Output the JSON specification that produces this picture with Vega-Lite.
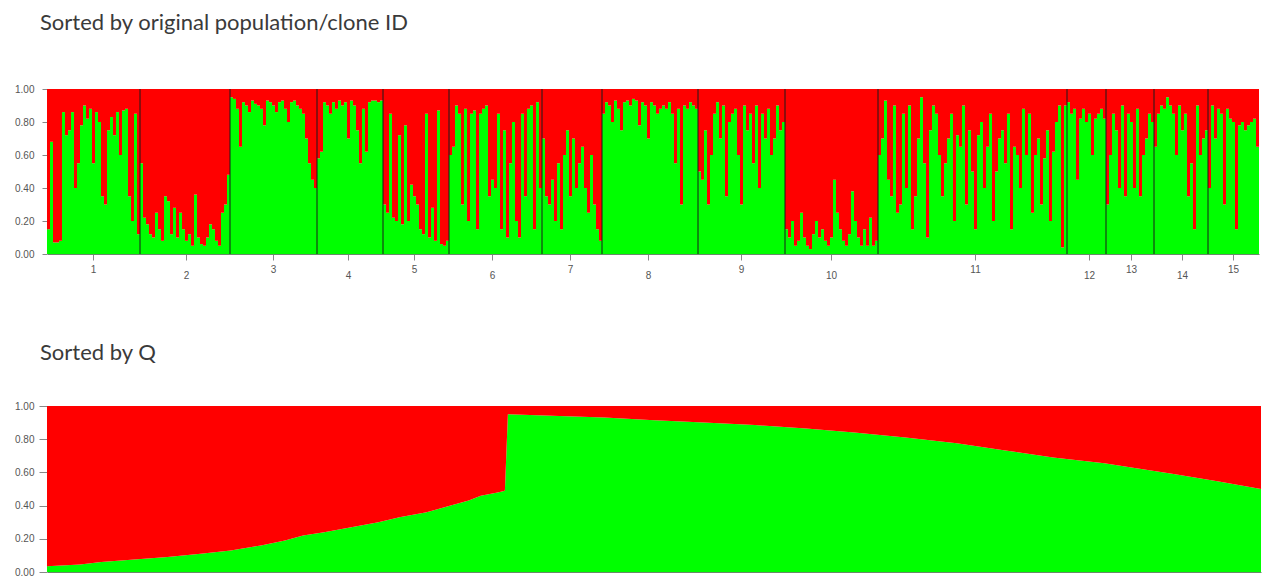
{
  "$schema": "https://vega.github.io/schema/vega-lite/v6.json",
  "background": "white",
  "padding": {"left": 14, "top": 12, "right": 5, "bottom": 2},
  "config": {
    "view": {"stroke": null},
    "font": "Liberation Sans",
    "title": {"font": "Lato", "fontSize": 22, "fontWeight": "normal", "color": "#3a3a3a", "anchor": "start", "frame": "group"},
    "axisY": {"title": null, "values": [0,0.2,0.4,0.6,0.8,1], "format": ".2f", "grid": false, "labelFontSize": 10, "labelColor": "#555555", "tickColor": "#888888", "domainColor": "#aaaaaa"}
  },
  "spacing": 62,
  "datasets": {
    "ind": [
      {"i":1,"p":1,"q":0.15},{"i":2,"p":1,"q":0.68},{"i":3,"p":1,"q":0.07},{"i":4,"p":1,"q":0.07},{"i":5,"p":1,"q":0.08},{"i":6,"p":1,"q":0.86},{"i":7,"p":1,"q":0.72},{"i":8,"p":1,"q":0.75},{"i":9,"p":1,"q":0.86},{"i":10,"p":1,"q":0.40},
      {"i":11,"p":1,"q":0.55},{"i":12,"p":1,"q":0.78},{"i":13,"p":1,"q":0.90},{"i":14,"p":1,"q":0.82},{"i":15,"p":1,"q":0.88},{"i":16,"p":1,"q":0.55},{"i":17,"p":1,"q":0.86},{"i":18,"p":1,"q":0.80},{"i":19,"p":1,"q":0.35},{"i":20,"p":1,"q":0.30},
      {"i":21,"p":1,"q":0.75},{"i":22,"p":1,"q":0.83},{"i":23,"p":1,"q":0.72},{"i":24,"p":1,"q":0.86},{"i":25,"p":1,"q":0.60},{"i":26,"p":1,"q":0.87},{"i":27,"p":1,"q":0.88},{"i":28,"p":1,"q":0.35},{"i":29,"p":1,"q":0.20},{"i":30,"p":1,"q":0.85},
      {"i":31,"p":1,"q":0.12},
      {"i":32,"p":2,"q":0.55},{"i":33,"p":2,"q":0.22},{"i":34,"p":2,"q":0.18},{"i":35,"p":2,"q":0.12},{"i":36,"p":2,"q":0.10},{"i":37,"p":2,"q":0.25},{"i":38,"p":2,"q":0.15},{"i":39,"p":2,"q":0.08},{"i":40,"p":2,"q":0.35},
      {"i":41,"p":2,"q":0.32},{"i":42,"p":2,"q":0.12},{"i":43,"p":2,"q":0.28},{"i":44,"p":2,"q":0.10},{"i":45,"p":2,"q":0.25},{"i":46,"p":2,"q":0.15},{"i":47,"p":2,"q":0.08},{"i":48,"p":2,"q":0.12},{"i":49,"p":2,"q":0.05},{"i":50,"p":2,"q":0.36},
      {"i":51,"p":2,"q":0.10},{"i":52,"p":2,"q":0.06},{"i":53,"p":2,"q":0.05},{"i":54,"p":2,"q":0.10},{"i":55,"p":2,"q":0.18},{"i":56,"p":2,"q":0.15},{"i":57,"p":2,"q":0.08},{"i":58,"p":2,"q":0.05},{"i":59,"p":2,"q":0.25},{"i":60,"p":2,"q":0.30},
      {"i":61,"p":2,"q":0.48},
      {"i":62,"p":3,"q":0.95},{"i":63,"p":3,"q":0.94},{"i":64,"p":3,"q":0.88},{"i":65,"p":3,"q":0.65},{"i":66,"p":3,"q":0.92},{"i":67,"p":3,"q":0.90},{"i":68,"p":3,"q":0.86},{"i":69,"p":3,"q":0.93},{"i":70,"p":3,"q":0.91},
      {"i":71,"p":3,"q":0.90},{"i":72,"p":3,"q":0.88},{"i":73,"p":3,"q":0.78},{"i":74,"p":3,"q":0.93},{"i":75,"p":3,"q":0.92},{"i":76,"p":3,"q":0.90},{"i":77,"p":3,"q":0.86},{"i":78,"p":3,"q":0.92},{"i":79,"p":3,"q":0.93},{"i":80,"p":3,"q":0.88},
      {"i":81,"p":3,"q":0.80},{"i":82,"p":3,"q":0.92},{"i":83,"p":3,"q":0.93},{"i":84,"p":3,"q":0.90},{"i":85,"p":3,"q":0.88},{"i":86,"p":3,"q":0.85},{"i":87,"p":3,"q":0.70},{"i":88,"p":3,"q":0.55},{"i":89,"p":3,"q":0.45},{"i":90,"p":3,"q":0.40},
      {"i":91,"p":4,"q":0.58},{"i":92,"p":4,"q":0.62},{"i":93,"p":4,"q":0.92},{"i":94,"p":4,"q":0.90},{"i":95,"p":4,"q":0.85},{"i":96,"p":4,"q":0.92},{"i":97,"p":4,"q":0.88},{"i":98,"p":4,"q":0.93},{"i":99,"p":4,"q":0.90},{"i":100,"p":4,"q":0.92},
      {"i":101,"p":4,"q":0.70},{"i":102,"p":4,"q":0.93},{"i":103,"p":4,"q":0.90},{"i":104,"p":4,"q":0.75},{"i":105,"p":4,"q":0.55},{"i":106,"p":4,"q":0.88},{"i":107,"p":4,"q":0.62},{"i":108,"p":4,"q":0.92},{"i":109,"p":4,"q":0.93},{"i":110,"p":4,"q":0.93},
      {"i":111,"p":4,"q":0.92},{"i":112,"p":4,"q":0.93},
      {"i":113,"p":5,"q":0.30},{"i":114,"p":5,"q":0.25},{"i":115,"p":5,"q":0.85},{"i":116,"p":5,"q":0.22},{"i":117,"p":5,"q":0.20},{"i":118,"p":5,"q":0.72},{"i":119,"p":5,"q":0.18},{"i":120,"p":5,"q":0.78},
      {"i":121,"p":5,"q":0.20},{"i":122,"p":5,"q":0.42},{"i":123,"p":5,"q":0.35},{"i":124,"p":5,"q":0.30},{"i":125,"p":5,"q":0.15},{"i":126,"p":5,"q":0.12},{"i":127,"p":5,"q":0.85},{"i":128,"p":5,"q":0.10},{"i":129,"p":5,"q":0.28},{"i":130,"p":5,"q":0.08},
      {"i":131,"p":5,"q":0.87},{"i":132,"p":5,"q":0.06},{"i":133,"p":5,"q":0.05},{"i":134,"p":5,"q":0.08},
      {"i":135,"p":6,"q":0.60},{"i":136,"p":6,"q":0.65},{"i":137,"p":6,"q":0.90},{"i":138,"p":6,"q":0.85},{"i":139,"p":6,"q":0.30},{"i":140,"p":6,"q":0.88},
      {"i":141,"p":6,"q":0.20},{"i":142,"p":6,"q":0.85},{"i":143,"p":6,"q":0.87},{"i":144,"p":6,"q":0.15},{"i":145,"p":6,"q":0.85},{"i":146,"p":6,"q":0.88},{"i":147,"p":6,"q":0.90},{"i":148,"p":6,"q":0.35},{"i":149,"p":6,"q":0.45},{"i":150,"p":6,"q":0.40},
      {"i":151,"p":6,"q":0.85},{"i":152,"p":6,"q":0.15},{"i":153,"p":6,"q":0.75},{"i":154,"p":6,"q":0.10},{"i":155,"p":6,"q":0.55},{"i":156,"p":6,"q":0.80},{"i":157,"p":6,"q":0.20},{"i":158,"p":6,"q":0.10},{"i":159,"p":6,"q":0.85},{"i":160,"p":6,"q":0.35},
      {"i":161,"p":6,"q":0.88},{"i":162,"p":6,"q":0.90},{"i":163,"p":6,"q":0.15},{"i":164,"p":6,"q":0.92},{"i":165,"p":6,"q":0.40},
      {"i":166,"p":7,"q":0.70},{"i":167,"p":7,"q":0.35},{"i":168,"p":7,"q":0.30},{"i":169,"p":7,"q":0.45},{"i":170,"p":7,"q":0.20},
      {"i":171,"p":7,"q":0.55},{"i":172,"p":7,"q":0.15},{"i":173,"p":7,"q":0.60},{"i":174,"p":7,"q":0.75},{"i":175,"p":7,"q":0.35},{"i":176,"p":7,"q":0.70},{"i":177,"p":7,"q":0.40},{"i":178,"p":7,"q":0.55},{"i":179,"p":7,"q":0.65},{"i":180,"p":7,"q":0.40},
      {"i":181,"p":7,"q":0.25},{"i":182,"p":7,"q":0.60},{"i":183,"p":7,"q":0.30},{"i":184,"p":7,"q":0.15},{"i":185,"p":7,"q":0.08},
      {"i":186,"p":8,"q":0.85},{"i":187,"p":8,"q":0.92},{"i":188,"p":8,"q":0.90},{"i":189,"p":8,"q":0.80},{"i":190,"p":8,"q":0.93},
      {"i":191,"p":8,"q":0.88},{"i":192,"p":8,"q":0.75},{"i":193,"p":8,"q":0.92},{"i":194,"p":8,"q":0.93},{"i":195,"p":8,"q":0.90},{"i":196,"p":8,"q":0.94},{"i":197,"p":8,"q":0.93},{"i":198,"p":8,"q":0.78},{"i":199,"p":8,"q":0.92},{"i":200,"p":8,"q":0.90},
      {"i":201,"p":8,"q":0.70},{"i":202,"p":8,"q":0.92},{"i":203,"p":8,"q":0.90},{"i":204,"p":8,"q":0.85},{"i":205,"p":8,"q":0.88},{"i":206,"p":8,"q":0.90},{"i":207,"p":8,"q":0.88},{"i":208,"p":8,"q":0.92},{"i":209,"p":8,"q":0.85},{"i":210,"p":8,"q":0.55},
      {"i":211,"p":8,"q":0.88},{"i":212,"p":8,"q":0.30},{"i":213,"p":8,"q":0.90},{"i":214,"p":8,"q":0.88},{"i":215,"p":8,"q":0.92},{"i":216,"p":8,"q":0.90},{"i":217,"p":8,"q":0.88},
      {"i":218,"p":9,"q":0.50},{"i":219,"p":9,"q":0.45},{"i":220,"p":9,"q":0.75},
      {"i":221,"p":9,"q":0.30},{"i":222,"p":9,"q":0.60},{"i":223,"p":9,"q":0.85},{"i":224,"p":9,"q":0.92},{"i":225,"p":9,"q":0.70},{"i":226,"p":9,"q":0.90},{"i":227,"p":9,"q":0.35},{"i":228,"p":9,"q":0.80},{"i":229,"p":9,"q":0.85},{"i":230,"p":9,"q":0.88},
      {"i":231,"p":9,"q":0.60},{"i":232,"p":9,"q":0.30},{"i":233,"p":9,"q":0.90},{"i":234,"p":9,"q":0.75},{"i":235,"p":9,"q":0.85},{"i":236,"p":9,"q":0.55},{"i":237,"p":9,"q":0.90},{"i":238,"p":9,"q":0.40},{"i":239,"p":9,"q":0.85},{"i":240,"p":9,"q":0.70},
      {"i":241,"p":9,"q":0.88},{"i":242,"p":9,"q":0.60},{"i":243,"p":9,"q":0.70},{"i":244,"p":9,"q":0.90},{"i":245,"p":9,"q":0.75},{"i":246,"p":9,"q":0.80},
      {"i":247,"p":10,"q":0.15},{"i":248,"p":10,"q":0.10},{"i":249,"p":10,"q":0.20},{"i":250,"p":10,"q":0.05},
      {"i":251,"p":10,"q":0.08},{"i":252,"p":10,"q":0.25},{"i":253,"p":10,"q":0.10},{"i":254,"p":10,"q":0.05},{"i":255,"p":10,"q":0.03},{"i":256,"p":10,"q":0.12},{"i":257,"p":10,"q":0.20},{"i":258,"p":10,"q":0.10},{"i":259,"p":10,"q":0.15},{"i":260,"p":10,"q":0.08},
      {"i":261,"p":10,"q":0.05},{"i":262,"p":10,"q":0.10},{"i":263,"p":10,"q":0.45},{"i":264,"p":10,"q":0.25},{"i":265,"p":10,"q":0.15},{"i":266,"p":10,"q":0.08},{"i":267,"p":10,"q":0.05},{"i":268,"p":10,"q":0.12},{"i":269,"p":10,"q":0.38},{"i":270,"p":10,"q":0.20},
      {"i":271,"p":10,"q":0.10},{"i":272,"p":10,"q":0.05},{"i":273,"p":10,"q":0.15},{"i":274,"p":10,"q":0.05},{"i":275,"p":10,"q":0.22},{"i":276,"p":10,"q":0.05},{"i":277,"p":10,"q":0.08},
      {"i":278,"p":11,"q":0.60},{"i":279,"p":11,"q":0.70},{"i":280,"p":11,"q":0.93},
      {"i":281,"p":11,"q":0.45},{"i":282,"p":11,"q":0.35},{"i":283,"p":11,"q":0.90},{"i":284,"p":11,"q":0.25},{"i":285,"p":11,"q":0.30},{"i":286,"p":11,"q":0.85},{"i":287,"p":11,"q":0.40},{"i":288,"p":11,"q":0.90},{"i":289,"p":11,"q":0.15},{"i":290,"p":11,"q":0.35},
      {"i":291,"p":11,"q":0.70},{"i":292,"p":11,"q":0.95},{"i":293,"p":11,"q":0.55},{"i":294,"p":11,"q":0.10},{"i":295,"p":11,"q":0.75},{"i":296,"p":11,"q":0.90},{"i":297,"p":11,"q":0.85},{"i":298,"p":11,"q":0.60},{"i":299,"p":11,"q":0.35},{"i":300,"p":11,"q":0.55},
      {"i":301,"p":11,"q":0.70},{"i":302,"p":11,"q":0.85},{"i":303,"p":11,"q":0.20},{"i":304,"p":11,"q":0.72},{"i":305,"p":11,"q":0.65},{"i":306,"p":11,"q":0.90},{"i":307,"p":11,"q":0.30},{"i":308,"p":11,"q":0.75},{"i":309,"p":11,"q":0.50},{"i":310,"p":11,"q":0.15},
      {"i":311,"p":11,"q":0.72},{"i":312,"p":11,"q":0.80},{"i":313,"p":11,"q":0.40},{"i":314,"p":11,"q":0.65},{"i":315,"p":11,"q":0.85},{"i":316,"p":11,"q":0.20},{"i":317,"p":11,"q":0.50},{"i":318,"p":11,"q":0.70},{"i":319,"p":11,"q":0.75},{"i":320,"p":11,"q":0.55},
      {"i":321,"p":11,"q":0.85},{"i":322,"p":11,"q":0.15},{"i":323,"p":11,"q":0.65},{"i":324,"p":11,"q":0.60},{"i":325,"p":11,"q":0.40},{"i":326,"p":11,"q":0.88},{"i":327,"p":11,"q":0.60},{"i":328,"p":11,"q":0.85},{"i":329,"p":11,"q":0.25},{"i":330,"p":11,"q":0.60},
      {"i":331,"p":11,"q":0.70},{"i":332,"p":11,"q":0.30},{"i":333,"p":11,"q":0.58},{"i":334,"p":11,"q":0.75},{"i":335,"p":11,"q":0.20},{"i":336,"p":11,"q":0.62},{"i":337,"p":11,"q":0.80},{"i":338,"p":11,"q":0.90},{"i":339,"p":11,"q":0.04},{"i":340,"p":11,"q":0.90},
      {"i":341,"p":12,"q":0.92},{"i":342,"p":12,"q":0.85},{"i":343,"p":12,"q":0.88},{"i":344,"p":12,"q":0.45},{"i":345,"p":12,"q":0.82},{"i":346,"p":12,"q":0.88},{"i":347,"p":12,"q":0.80},{"i":348,"p":12,"q":0.85},{"i":349,"p":12,"q":0.60},{"i":350,"p":12,"q":0.82},
      {"i":351,"p":12,"q":0.85},{"i":352,"p":12,"q":0.88},{"i":353,"p":12,"q":0.82},
      {"i":354,"p":13,"q":0.30},{"i":355,"p":13,"q":0.60},{"i":356,"p":13,"q":0.85},{"i":357,"p":13,"q":0.75},{"i":358,"p":13,"q":0.40},{"i":359,"p":13,"q":0.90},{"i":360,"p":13,"q":0.35},
      {"i":361,"p":13,"q":0.85},{"i":362,"p":13,"q":0.80},{"i":363,"p":13,"q":0.40},{"i":364,"p":13,"q":0.88},{"i":365,"p":13,"q":0.35},{"i":366,"p":13,"q":0.60},{"i":367,"p":13,"q":0.70},{"i":368,"p":13,"q":0.85},{"i":369,"p":13,"q":0.80},
      {"i":370,"p":14,"q":0.65},{"i":371,"p":14,"q":0.85},{"i":372,"p":14,"q":0.90},{"i":373,"p":14,"q":0.88},{"i":374,"p":14,"q":0.95},{"i":375,"p":14,"q":0.90},{"i":376,"p":14,"q":0.85},{"i":377,"p":14,"q":0.60},{"i":378,"p":14,"q":0.90},{"i":379,"p":14,"q":0.75},
      {"i":380,"p":14,"q":0.85},{"i":381,"p":14,"q":0.35},{"i":382,"p":14,"q":0.55},{"i":383,"p":14,"q":0.15},{"i":384,"p":14,"q":0.90},{"i":385,"p":14,"q":0.60},{"i":386,"p":14,"q":0.70},{"i":387,"p":14,"q":0.75},
      {"i":388,"p":15,"q":0.40},{"i":389,"p":15,"q":0.90},{"i":390,"p":15,"q":0.70},
      {"i":391,"p":15,"q":0.88},{"i":392,"p":15,"q":0.85},{"i":393,"p":15,"q":0.30},{"i":394,"p":15,"q":0.88},{"i":395,"p":15,"q":0.82},{"i":396,"p":15,"q":0.80},{"i":397,"p":15,"q":0.15},{"i":398,"p":15,"q":0.78},{"i":399,"p":15,"q":0.80},{"i":400,"p":15,"q":0.75},
      {"i":401,"p":15,"q":0.78},{"i":402,"p":15,"q":0.80},{"i":403,"p":15,"q":0.82},{"i":404,"p":15,"q":0.65}
    ],
    "sortedq": [
      {"r":1,"q":0.035},{"r":12,"q":0.045},{"r":19,"q":0.06},{"r":30,"q":0.075},{"r":41,"q":0.09},{"r":52,"q":0.11},{"r":62,"q":0.13},{"r":72,"q":0.16},{"r":80,"q":0.19},{"r":86,"q":0.22},
      {"r":93,"q":0.24},{"r":102,"q":0.27},{"r":111,"q":0.30},{"r":118,"q":0.33},{"r":127,"q":0.36},{"r":135,"q":0.40},{"r":141,"q":0.43},{"r":145,"q":0.46},{"r":151,"q":0.48},{"r":153,"q":0.49},
      {"r":154,"q":0.95},{"r":171,"q":0.94},{"r":186,"q":0.93},{"r":201,"q":0.915},{"r":219,"q":0.90},{"r":236,"q":0.885},{"r":253,"q":0.865},{"r":269,"q":0.84},{"r":286,"q":0.81},{"r":303,"q":0.775},
      {"r":318,"q":0.735},{"r":335,"q":0.69},{"r":352,"q":0.655},{"r":361,"q":0.63},{"r":375,"q":0.59},{"r":390,"q":0.545},{"r":404,"q":0.50}
    ]
  },
  "vconcat": [
    {
      "title": {"text": "Sorted by original population/clone ID", "offset": 49, "dx": -7},
      "width": 1212,
      "height": 165,
      "data": {"name": "ind"},
      "encoding": {
        "x": {
          "field": "i", "type": "ordinal",
          "scale": {"paddingInner": 0, "paddingOuter": 0},
          "axis": {
            "title": null,
            "values": [16,47,76,101,123,149,175,201,232,262,310,348,362,379,396],
            "labelExpr": "indexof([16,47,76,101,123,149,175,201,232,262,310,348,362,379,396], datum.value) + 1",
            "labelAngle": 0,
            "labelOverlap": false,
            "labelFontSize": 10,
            "labelColor": "#555555",
            "labelPadding": {"condition": {"test": "indexof([47,101,149,201,262,348,379], datum.value) >= 0", "value": 10}, "value": 4},
            "tickSize": 6,
            "tickColor": "#888888",
            "domainColor": "#6a8a6a"
          }
        }
      },
      "layer": [
        {
          "mark": {"type": "bar", "color": "#00FF00"},
          "encoding": {
            "y": {"field": "q", "type": "quantitative", "scale": {"domain": [0, 1], "nice": false}, "axis": {"tickSize": 5, "labelPadding": 8}}
          }
        },
        {
          "mark": {"type": "bar", "color": "#FF0000"},
          "encoding": {
            "y": {"field": "q", "type": "quantitative", "axis": {"tickSize": 5, "labelPadding": 8}},
            "y2": {"datum": 1}
          }
        },
        {
          "transform": [
            {"aggregate": [{"op": "min", "field": "i", "as": "i"}], "groupby": ["p"]},
            {"filter": "datum.p > 1"}
          ],
          "mark": {"type": "rule", "color": "#1a1a1a", "strokeWidth": 1},
          "encoding": {
            "x": {"field": "i", "type": "ordinal", "bandPosition": 0},
            "y": {"datum": 0, "type": "quantitative", "axis": {"tickSize": 5, "labelPadding": 8}},
            "y2": {"datum": 1}
          }
        }
      ]
    },
    {
      "title": {"text": "Sorted by Q", "offset": 36, "dx": -7},
      "width": 1214,
      "height": 166,
      "data": {"name": "sortedq"},
      "encoding": {
        "x": {
          "field": "r", "type": "quantitative",
          "scale": {"domain": [1, 404], "nice": false, "zero": false},
          "axis": {"title": null, "labels": false, "ticks": false, "grid": false, "domainColor": "#6a8a6a"}
        }
      },
      "layer": [
        {
          "mark": {"type": "area", "color": "#00FF00"},
          "encoding": {
            "y": {"field": "q", "type": "quantitative", "scale": {"domain": [0, 1], "nice": false}, "axis": {"tickSize": 8, "labelPadding": 5}}
          }
        },
        {
          "mark": {"type": "area", "color": "#FF0000"},
          "encoding": {
            "y": {"field": "q", "type": "quantitative", "axis": {"tickSize": 8, "labelPadding": 5}},
            "y2": {"datum": 1}
          }
        }
      ]
    }
  ]
}
